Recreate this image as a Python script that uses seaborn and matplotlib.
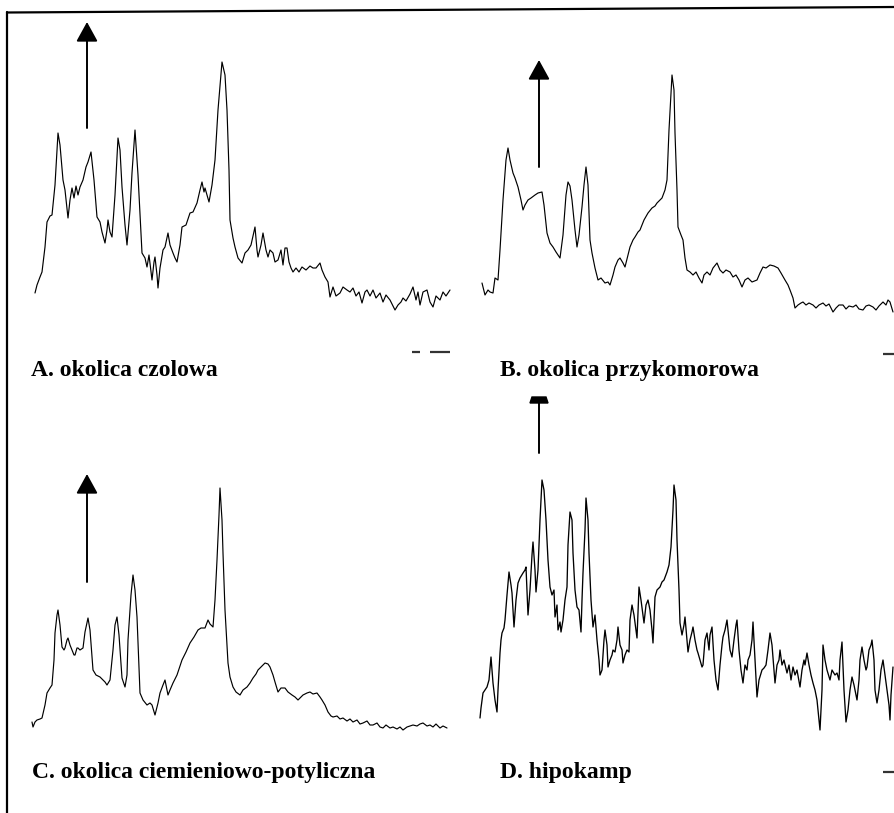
import matplotlib
matplotlib.use('Agg')
import matplotlib.pyplot as plt
import seaborn as sns
from matplotlib.lines import Line2D
from matplotlib.patches import Polygon

# --- spectra (x: position in panel, y: signal height) ---
a_x = [5, 7, 10, 12, 15, 17, 20, 22, 25, 28,
       30, 33, 35, 38, 40, 42, 44, 46, 48, 50,
       53, 56, 58, 61, 64, 67, 70, 72, 75, 77,
       78, 80, 82, 85, 88, 90, 92, 95, 97, 100,
       102, 105, 108, 112, 115, 117, 119, 122, 124, 125,
       127, 128, 130, 133, 135, 138, 140, 143, 145, 147,
       150, 152, 156, 160, 163, 167, 170, 172, 174, 175,
       177, 179, 182, 185, 188, 192, 195, 197, 199, 200,
       203, 205, 208, 212, 215, 218, 221, 225, 227, 228,
       231, 233, 236, 238, 240, 243, 245, 248, 251, 253,
       255, 257, 259, 261, 263, 266, 269, 272, 276, 280,
       283, 286, 290, 292, 295, 298, 300, 303, 306, 310,
       313, 317, 320, 323, 326, 329, 332, 335, 337, 340,
       343, 346, 350, 353, 356, 360, 365, 368, 371, 373,
       376, 380, 383, 386, 388, 390, 393, 397, 400, 403,
       406, 410, 413, 416, 420]
a_y = [37, 45, 53, 58, 83, 108, 114, 115, 145, 197,
       185, 150, 140, 112, 130, 142, 132, 144, 135, 143,
       150, 163, 168, 178, 150, 113, 108, 98, 87, 100,
       110, 98, 93, 135, 192, 180, 143, 105, 85, 120,
       157, 200, 155, 77, 72, 63, 75, 50, 68, 73,
       55, 42, 62, 80, 83, 97, 85, 77, 72, 68,
       85, 103, 105, 117, 118, 127, 140, 148, 138, 142,
       135, 128, 145, 170, 220, 268, 255, 220, 160, 110,
       92, 83, 72, 67, 77, 80, 85, 103, 80, 73,
       85, 97, 80, 73, 80, 77, 68, 70, 80, 65,
       82, 82, 68, 62, 58, 62, 58, 63, 60, 64,
       62, 62, 67, 60, 53, 48, 33, 43, 34, 37,
       43, 40, 38, 42, 34, 38, 27, 38, 40, 34,
       40, 32, 37, 28, 35, 30, 20, 25, 28, 32,
       29, 36, 43, 30, 38, 25, 38, 40, 28, 23,
       34, 30, 38, 34, 40]

b_x = [12, 15, 18, 20, 23, 25, 28, 30, 33, 36,
       38, 40, 43, 45, 48, 51, 53, 55, 58, 61,
       65, 68, 72, 74, 77, 80, 83, 86, 90, 93,
       96, 98, 100, 102, 105, 107, 109, 112, 114, 116,
       118, 120, 122, 125, 128, 131, 135, 138, 140, 143,
       145, 148, 150, 153, 155, 158, 160, 163, 165, 168,
       170, 174, 178, 182, 185, 187, 190, 192, 195, 197,
       199, 202, 204, 205, 207, 208, 211, 213, 215, 217,
       220, 223, 226, 229, 232, 234, 237, 240, 243, 247,
       250, 253, 256, 260, 263, 266, 269, 272, 275, 278,
       282, 287, 290, 293, 296, 300, 304, 308, 311, 315,
       318, 320, 323, 325, 328, 331, 333, 336, 339, 343,
       346, 349, 353, 356, 359, 363, 366, 369, 373, 376,
       379, 383, 386, 389, 393, 396, 399, 403, 406, 409,
       413, 416, 418, 420, 423]
b_y = [47, 35, 40, 38, 37, 52, 50, 80, 130, 170,
       182, 170, 157, 152, 143, 130, 120, 125, 130, 132,
       135, 137, 138, 125, 97, 87, 83, 78, 72, 95,
       135, 148, 144, 130, 100, 83, 95, 123, 145, 163,
       145, 90, 77, 62, 50, 52, 47, 48, 45, 55,
       63, 70, 72, 67, 63, 75, 83, 90, 93, 98,
       100, 110, 117, 122, 124, 127, 130, 132, 140, 150,
       200, 255, 240, 197, 140, 103, 95, 90, 72, 60,
       58, 55, 58, 52, 47, 55, 58, 55, 62, 67,
       60, 57, 60, 58, 53, 55, 50, 43, 50, 52,
       48, 50, 57, 63, 62, 65, 64, 62, 57, 50,
       45, 40, 32, 22, 25, 27, 28, 25, 27, 25,
       22, 25, 27, 24, 26, 18, 22, 25, 25, 21,
       24, 23, 25, 21, 20, 24, 25, 23, 20, 24,
       28, 25, 30, 28, 18]

c_x = [2, 3, 5, 7, 10, 12, 15, 17, 20, 22,
       24, 25, 27, 28, 30, 32, 34, 35, 37, 38,
       40, 42, 44, 45, 47, 48, 50, 53, 55, 58,
       60, 63, 66, 70, 73, 75, 77, 80, 83, 85,
       87, 89, 92, 95, 97, 98, 101, 103, 105, 107,
       110, 113, 117, 120, 122, 125, 128, 130, 133, 135,
       138, 140, 143, 147, 152, 156, 160, 164, 168, 171,
       175, 178, 180, 183, 185, 187, 189, 190, 192, 193,
       195, 198, 200, 203, 206, 210, 213, 217, 220, 223,
       226, 228, 231, 235, 238, 240, 243, 245, 248, 251,
       255, 258, 262, 265, 268, 271, 273, 277, 280, 283,
       287, 290, 292, 295, 298, 301, 303, 307, 310, 313,
       317, 320, 323, 327, 330, 333, 337, 340, 343, 347,
       350, 353, 356, 360, 363, 367, 370, 373, 377, 380,
       383, 387, 390, 393, 397, 400, 403, 406, 410, 413,
       417]
c_y = [18, 13, 18, 20, 21, 22, 35, 47, 52, 55,
       80, 107, 125, 130, 115, 93, 90, 92, 100, 102,
       95, 90, 85, 85, 92, 92, 90, 92, 108, 122,
       110, 70, 65, 63, 60, 58, 55, 60, 90, 115,
       123, 105, 62, 53, 65, 100, 145, 165, 150, 123,
       47, 40, 35, 37, 35, 25, 37, 47, 55, 60,
       45, 50, 57, 65, 80, 88, 97, 103, 110, 112,
       112, 120, 116, 113, 140, 180, 225, 252, 220, 187,
       130, 77, 63, 53, 48, 45, 50, 53, 57, 62,
       66, 70, 73, 77, 76, 73, 65, 58, 48, 52,
       52, 48, 45, 43, 40, 43, 45, 47, 48, 46,
       47, 43, 40, 35, 28, 24, 23, 24, 21, 22,
       19, 21, 18, 20, 16, 17, 19, 15, 15, 17,
       13, 12, 15, 12, 13, 11, 13, 10, 13, 14,
       15, 14, 16, 17, 14, 15, 13, 16, 12, 14,
       12]

d_x = [10, 11, 13, 15, 17, 19, 21, 22, 23, 25,
       27, 28, 30, 31, 32, 34, 35, 37, 39, 41,
       42, 44, 46, 48, 50, 53, 55, 56, 58, 60,
       62, 63, 65, 66, 68, 70, 72, 74, 76, 78,
       80, 82, 84, 85, 87, 88, 90, 91, 93, 95,
       97, 98, 100, 102, 103, 105, 107, 109, 111, 112,
       113, 115, 116, 118, 119, 121, 123, 125, 127, 129,
       130, 132, 134, 135, 137, 138, 140, 142, 143, 145,
       147, 148, 150, 152, 153, 155, 157, 159, 160, 162,
       164, 166, 167, 169, 171, 173, 174, 176, 178, 180,
       182, 183, 185, 187, 190, 192, 194, 197, 199, 201,
       203, 204, 206, 207, 209, 210, 212, 214, 215, 217,
       218, 220, 222, 223, 225, 227, 228, 230, 232, 233,
       235, 237, 239, 240, 242, 244, 246, 248, 250, 252,
       253, 255, 257, 259, 260, 262, 264, 266, 267, 269,
       271, 273, 275, 277, 278, 280, 282, 283, 285, 287,
       289, 292, 294, 296, 298, 300, 302, 305, 307, 309,
       310, 312, 314, 317, 319, 321, 323, 325, 327, 330,
       332, 334, 335, 337, 339, 341, 343, 345, 347, 349,
       350, 352, 353, 355, 357, 360, 362, 365, 367, 369,
       370, 372, 374, 376, 378, 380, 382, 384, 387, 389,
       390, 392, 394, 396, 397, 399, 401, 402, 404, 405,
       407, 409, 411, 413, 415, 417, 419, 420, 421, 423]
d_y = [22, 32, 47, 50, 53, 60, 83, 70, 57, 40,
       28, 50, 87, 100, 107, 112, 120, 145, 168, 155,
       147, 113, 140, 157, 162, 167, 170, 173, 125, 150,
       185, 198, 170, 148, 170, 220, 260, 250, 220, 180,
       153, 145, 150, 123, 135, 110, 118, 108, 120, 140,
       153, 195, 228, 220, 187, 150, 133, 130, 108, 140,
       167, 210, 242, 220, 187, 140, 113, 125, 100, 80,
       65, 70, 100, 110, 95, 73, 80, 85, 90, 88,
       100, 113, 95, 90, 77, 85, 90, 88, 120, 135,
       125, 110, 102, 153, 140, 125, 117, 135, 140, 130,
       110, 97, 143, 150, 153, 158, 160, 168, 175, 193,
       230, 255, 240, 200, 150, 117, 105, 115, 123, 100,
       88, 100, 108, 113, 100, 90, 87, 80, 73, 75,
       100, 107, 90, 105, 113, 80, 60, 50, 75, 95,
       103, 110, 120, 100, 90, 83, 100, 115, 120, 90,
       70, 57, 75, 70, 80, 85, 100, 118, 80, 43,
       60, 70, 72, 75, 90, 107, 95, 57, 75, 80,
       90, 75, 80, 67, 75, 60, 73, 65, 70, 53,
       70, 80, 75, 87, 75, 65, 57, 50, 40, 20,
       10, 50, 95, 80, 70, 60, 70, 65, 67, 60,
       80, 98, 50, 18, 30, 50, 63, 55, 40, 60,
       80, 93, 80, 70, 73, 90, 95, 100, 80, 50,
       37, 50, 70, 80, 65, 50, 35, 20, 45, 73]

labels = ['A. okolica czolowa', 'B. okolica przykomorowa',
          'C. okolica ciemieniowo-potyliczna', 'D. hipokamp']

sns.set_style('white')
plt.rcParams['font.family'] = ['Liberation Serif', 'DejaVu Serif']

W, H = 894, 813
PW = 424  # panel width in px
fig = plt.figure(figsize=(W / 100, H / 100), dpi=100)


def add_panel(x0, y_top, y_base):
    ax = fig.add_axes([x0 / W, 1 - y_base / H, PW / W, (y_base - y_top) / H])
    ax.set_xlim(0, PW)
    ax.set_ylim(0, y_base - y_top)
    ax.axis('off')
    return ax


panels = [
    (add_panel(30, 0, 330), a_x, a_y, labels[0], 1, -40, 57, 202, 308, 0.85),
    (add_panel(470, 0, 330), b_x, b_y, labels[1], 30, -40, 69, 163, 270, 0.85),
    (add_panel(30, 390, 740), c_x, c_y, labels[2], 2, -32, 57, 158, 266, 0.85),
    (add_panel(470, 390, 740), d_x, d_y, labels[3], 30, -32, 69, 287, None, 0.95),
]

for ax, xs, ys, lab, lx, ly, arx, ar0, ar1, lw in panels:
    sns.lineplot(x=xs, y=ys, ax=ax, color='black', linewidth=lw,
                 estimator=None, sort=False)
    ax.text(lx, ly, lab, fontsize=17, fontweight='bold', color='black',
            va='center', ha='left', clip_on=False)
    if ar1 is not None:
        ax.annotate('', xy=(arx, ar1), xytext=(arx, ar0),
                    arrowprops=dict(arrowstyle='-|>,head_length=0.6,head_width=0.33',
                                    color='black', lw=1.4, mutation_scale=20,
                                    shrinkA=0, shrinkB=0))
    else:
        # arrow in D is clipped: shaft plus a flat trapezoid head
        ax.plot([arx, arx], [ar0, ar0 + 50], color='black', lw=1.4)
        ax.add_patch(Polygon([[arx - 9, ar0 + 50], [arx + 9, ar0 + 50],
                              [arx + 7, ar0 + 56], [arx - 7, ar0 + 56]],
                             closed=True, color='black', clip_on=False))

# small scale ticks under the spectra
panels[0][0].hlines(-22, 382, 390, color='#333333', lw=1.6, clip_on=False)
panels[0][0].hlines(-22, 400, 420, color='#333333', lw=1.6, clip_on=False)
panels[1][0].hlines(-24, 413, 424, color='#333333', lw=1.6, clip_on=False)
panels[3][0].hlines(-32, 413, 424, color='#333333', lw=1.6, clip_on=False)

# frame of the scanned page (top and left edges only)
fig.add_artist(Line2D([7 / W, 1], [1 - 12.5 / H, 1 - 7 / H], color='black',
                      lw=1.6, transform=fig.transFigure))
fig.add_artist(Line2D([7 / W, 7 / W], [1 - 12.5 / H, 0], color='black',
                      lw=1.6, transform=fig.transFigure))

fig.savefig('out.png', dpi=100)
plt.close(fig)
